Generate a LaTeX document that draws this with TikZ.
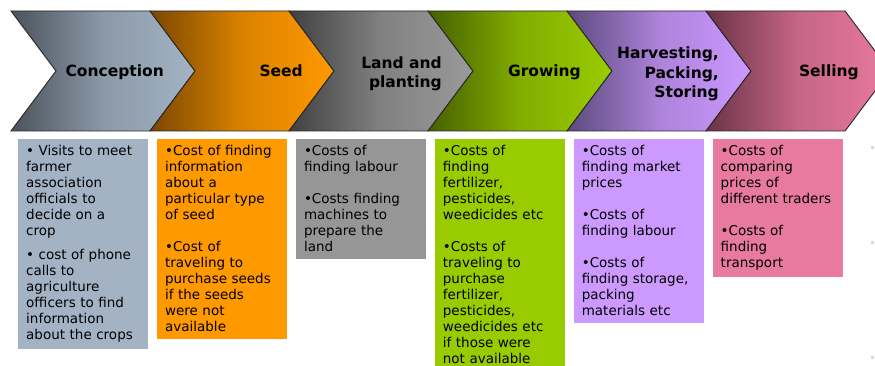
\documentclass[tikz,border=0pt]{standalone}
\usepackage{fontspec}
\setsansfont{DejaVu Sans}
\usetikzlibrary{positioning}

% gradient ends of the stage arrows
\definecolor{conL}{HTML}{4B535C}
\definecolor{conR}{HTML}{A4B4C5}
\definecolor{seedL}{HTML}{7A4700}
\definecolor{seedR}{HTML}{FF9900}
\definecolor{landL}{HTML}{404040}
\definecolor{landR}{HTML}{9A9A9A}
\definecolor{growL}{HTML}{465F00}
\definecolor{growR}{HTML}{99CC00}
\definecolor{harvL}{HTML}{5C4A7C}
\definecolor{harvR}{HTML}{CC99FF}
\definecolor{sellL}{HTML}{6A3346}
\definecolor{sellR}{HTML}{E9799F}
% fills of the cost boxes
\definecolor{conBox}{HTML}{A3B3C4}
\definecolor{seedBox}{HTML}{FF9900}
\definecolor{landBox}{HTML}{969696}
\definecolor{growBox}{HTML}{99CC00}
\definecolor{harvBox}{HTML}{CC99FF}
\definecolor{sellBox}{HTML}{E87AA0}

\begin{document}
\begin{tikzpicture}[x=1pt, y=-1pt,
    chev/.style 2 args={draw=black!85, line width=0.9pt, line join=miter, left color=#1, right color=#2, middle color=#2!72!#1},
    stage/.style={anchor=base east, align=right, inner sep=0pt, font=\sffamily\bfseries\fontsize{15.5}{19.5}\selectfont},
    stage2/.style={stage, anchor=east},
    cost/.style={inner xsep=8pt, inner ysep=6.5pt, text width=114pt, align=left, font=\sffamily\fontsize{13.5}{16}\selectfont}]
    \useasboundingbox (0,0) rectangle (875,366);

    % stage arrows
    \draw [chev={conL}{conR}] (11,11) -- (150,11) -- (195,71) -- (150,131) -- (11,131) -- (56,71) -- cycle;
    \draw [chev={seedL}{seedR}] (150,11) -- (289,11) -- (334,71) -- (289,131) -- (150,131) -- (195,71) -- cycle;
    \draw [chev={landL}{landR}] (289,11) -- (428,11) -- (473,71) -- (428,131) -- (289,131) -- (334,71) -- cycle;
    \draw [chev={growL}{growR}] (428,11) -- (567,11) -- (612,71) -- (567,131) -- (428,131) -- (473,71) -- cycle;
    \draw [chev={harvL}{harvR}] (567,11) -- (706,11) -- (751,71) -- (706,131) -- (567,131) -- (612,71) -- cycle;
    \draw [chev={sellL}{sellR}] (706,11) -- (845,11) -- (890,71) -- (845,131) -- (706,131) -- (751,71) -- cycle;

    \node [stage] (con) at (164,77) {Conception};
    \node [stage] (seed) at (303,77) {Seed};
    \node [stage2] (land) at (442,74) {Land and\\planting};
    \node [stage] (grow) at (581,77) {Growing};
    \node [stage2] (harv) at (719,74) {Harvesting,\\Packing,\\Storing};
    \node [stage] (sell) at (859,77) {Selling};

    % cost boxes under each stage
    \node [cost, fill=conBox, anchor=north west] (conCost) at (18,139) {• Visits to meet\\farmer\\association\\officials to\\decide on a\\crop\\[8pt]• cost of phone\\calls to\\agriculture\\officers to find\\information\\about the crops};
    \node [cost, fill=seedBox, right=8.5pt of conCost.north east, anchor=north west] (seedCost) {•Cost of finding\\information\\about a\\particular type\\of seed\\[16pt]•Cost of\\traveling to\\purchase seeds\\if the seeds\\were not\\available};
    \node [cost, fill=landBox, right=8.5pt of seedCost.north east, anchor=north west] (landCost) {•Costs of\\finding labour\\[16pt]•Costs finding\\machines to\\prepare the\\land};
    \node [cost, fill=growBox, right=8.5pt of landCost.north east, anchor=north west] (growCost) {•Costs of\\finding\\fertilizer,\\pesticides,\\weedicides etc\\[16pt]•Costs of\\traveling to\\purchase\\fertilizer,\\pesticides,\\weedicides etc\\if those were\\not available};
    \node [cost, fill=harvBox, right=8.5pt of growCost.north east, anchor=north west] (harvCost) {•Costs of\\finding market\\prices\\[16pt]•Costs of\\finding labour\\[16pt]•Costs of\\finding storage,\\packing\\materials etc};
    \node [cost, fill=sellBox, right=8.5pt of harvCost.north east, anchor=north west] (sellCost) {•Costs of\\comparing\\prices of\\different traders\\[16pt]•Costs of\\finding\\transport};

    % faint marks on the right edge
    \fill [gray!30] (871,146) rectangle ++(3,3);
    \fill [gray!30] (871,241) rectangle ++(3,3);
    \fill [gray!30] (871,356) rectangle ++(3,3);
\end{tikzpicture}
\end{document}
